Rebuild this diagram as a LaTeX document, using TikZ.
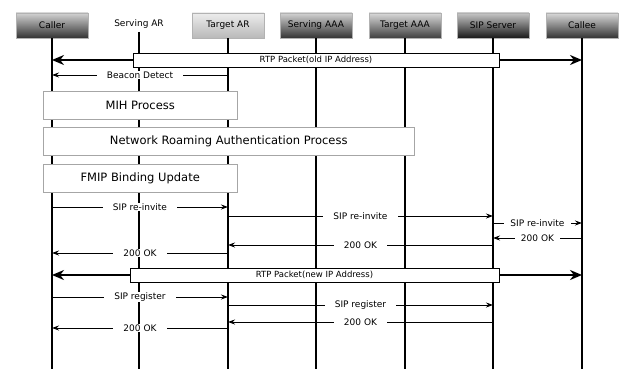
\documentclass[tikz,border=0pt]{standalone}
\usepackage{fontspec}
\setmainfont{DejaVu Sans}
\usepackage{tikz}
\usetikzlibrary{positioning, calc, arrows.meta}

\begin{document}
\begin{tikzpicture}[x=1pt, y=-1pt,
    hdr/.style={draw=gray!60, minimum width=72pt, minimum height=25pt, inner sep=0pt,
        font=\fontsize{9}{10}\selectfont},
    life/.style={line width=2pt},
    msg/.style={line width=0.9pt, -{Stealth[length=7pt,width=5pt]}},
    rtp/.style={line width=2.6pt, -{Stealth[length=12pt,width=10pt]}},
    lbl/.style={fill=white, inner xsep=10pt, inner ysep=1pt, font=\fontsize{9}{10}\selectfont},
    lblnarrow/.style={lbl, inner xsep=6pt},
    procbox/.style={draw=gray!70, fill=white, minimum height=28pt, anchor=west,
        font=\fontsize{11.5}{13}\selectfont},
    rtpbox/.style={draw, fill=white, minimum height=14pt, inner sep=0pt,
        font=\fontsize{8.5}{10}\selectfont}]

    \useasboundingbox (0,0) rectangle (623,369);

    % Entities
    \node[hdr, top color=gray!35, bottom color=black!80] (caller) at (52,25.5) {Caller};
    \node[font=\fontsize{9}{10}\selectfont] (sar) at (139,24) {Serving AR};
    \node[hdr, top color=gray!15, bottom color=gray!55] (tar) at (228,25.5) {Target AR};
    \node[hdr, top color=gray!35, bottom color=black!80] (saaa) at (316,25.5) {Serving AAA};
    \node[hdr, top color=gray!30, bottom color=black!75] (taaa) at (405,25.5) {Target AAA};
    \node[hdr, top color=gray!45, bottom color=black!90] (sip) at (493,25.5) {SIP Server};
    \node[hdr, top color=gray!30, bottom color=black!80] (callee) at (582,25.5) {Callee};

    % Lifelines
    \foreach \n in {caller, sar, tar, saaa, taaa, sip, callee}
        \draw[life] (\n.south) -- (\n.south |- 0,369);

    % Message rows
    \coordinate (r1) at (0,75);
    \coordinate (r2) at (0,207);
    \coordinate (r3) at (0,216);
    \coordinate (r4) at (0,223);
    \coordinate (r5) at (0,238);
    \coordinate (r6) at (0,245);
    \coordinate (r7) at (0,253);
    \coordinate (r8) at (0,297);
    \coordinate (r9) at (0,305);
    \coordinate (r10) at (0,322);
    \coordinate (r11) at (0,328);

    % RTP flow, old address
    \node[rtpbox, minimum width=366pt] (rtpold) at (316,60) {RTP Packet(old IP Address)};
    \draw[rtp] (rtpold.west) -- (caller |- rtpold);
    \draw[rtp] (rtpold.east) -- (callee |- rtpold);

    \draw[msg] (tar |- r1) -- node[lbl] {Beacon Detect} (caller |- r1);

    % Handover phases
    \node[procbox, minimum width=194pt] (mih) at (43,105) {MIH Process};
    \node[procbox, minimum width=371pt] (nra) at (43,141) {Network Roaming Authentication Process};
    \node[procbox, minimum width=194pt] (fmip) at (43,178.5) {FMIP Binding Update};

    % Re-invite
    \draw[msg] (caller |- r2) -- node[lbl] {SIP re-invite} (tar |- r2);
    \draw[msg] (tar |- r3) -- node[lbl] {SIP re-invite} (sip |- r3);
    \draw[msg] (sip |- r4) -- node[lblnarrow] {SIP re-invite} (callee |- r4);
    \draw[msg] (callee |- r5) -- node[lblnarrow] {200 OK} (sip |- r5);
    \draw[msg] (sip |- r6) -- node[lbl] {200 OK} (tar |- r6);
    \draw[msg] (tar |- r7) -- node[lbl] {200 OK} (caller |- r7);

    % RTP flow, new address
    \node[rtpbox, minimum width=369pt] (rtpnew) at (314.5,275) {RTP Packet(new IP Address)};
    \draw[rtp] (rtpnew.west) -- (caller |- rtpnew);
    \draw[rtp] (rtpnew.east) -- (callee |- rtpnew);

    % Register
    \draw[msg] (caller |- r8) -- node[lbl] {SIP register} (tar |- r8);
    \draw[msg] (tar |- r9) -- node[lbl] {SIP register} (sip |- r9);
    \draw[msg] (sip |- r10) -- node[lbl] {200 OK} (tar |- r10);
    \draw[msg] (tar |- r11) -- node[lbl] {200 OK} (caller |- r11);
\end{tikzpicture}
\end{document}
